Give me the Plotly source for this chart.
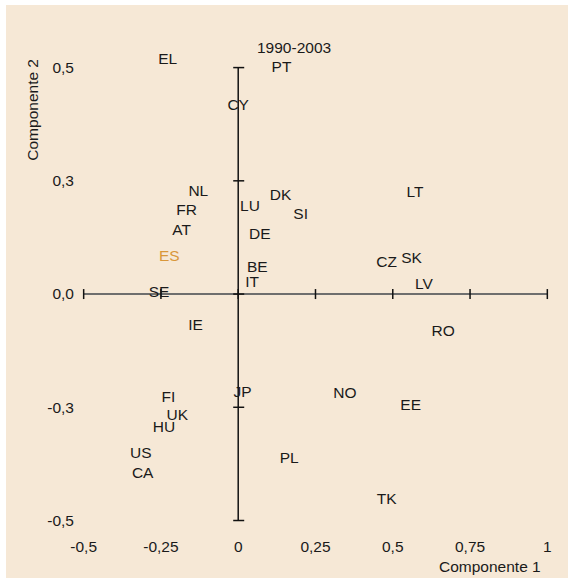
import plotly.graph_objects as go

countries = ["EL", "PT", "CY", "NL", "FR", "AT", "ES", "LU", "DK", "SI", "DE", "BE", "IT", "SE",
             "LT", "CZ", "SK", "LV", "IE", "JP", "FI", "UK", "HU", "US", "CA", "PL", "RO", "NO", "EE", "TK"]
comp1 = [-0.228, 0.140, 0.000, -0.129, -0.167, -0.183, -0.223, 0.038, 0.137, 0.202, 0.070, 0.062, 0.045, -0.256,
         0.572, 0.480, 0.561, 0.601, -0.138, 0.014, -0.226, -0.197, -0.240, -0.315, -0.309, 0.165, 0.663, 0.345, 0.558, 0.480]
comp2 = [0.517, 0.498, 0.415, 0.224, 0.183, 0.139, 0.082, 0.193, 0.217, 0.174, 0.129, 0.057, 0.024, 0.002,
         0.222, 0.068, 0.077, 0.020, -0.070, -0.219, -0.230, -0.269, -0.297, -0.354, -0.398, -0.364, -0.085, -0.221, -0.247, -0.455]
highlight = "ES"

x_ticks = [-0.5, -0.25, 0, 0.25, 0.5, 0.75, 1]
x_ticktext = ["-0,5", "-0,25", "0", "0,25", "0,5", "0,75", "1"]
y_ticks = [-0.5, -0.25, 0, 0.25, 0.5]
y_ticktext = ["-0,5", "-0,3", "0,0", "0,3", "0,5"]

title_text = "1990-2003"
x_title = "Componente 1"
y_title = "Componente 2"

FONT = "Liberation Sans, Arial, sans-serif"
FS = 15.5
BG = "#F6E8D6"

colors = ["#D9973A" if c == highlight else "#1a1a1a" for c in countries]

fig = go.Figure()
fig.add_trace(go.Scatter(
    x=comp1, y=comp2, mode="text", text=countries,
    textposition="middle center",
    textfont=dict(family=FONT, size=FS, color=colors),
    hoverinfo="skip", showlegend=False, cliponaxis=False,
))

shapes = []
# background panel
shapes.append(dict(type="rect", xref="paper", yref="paper",
                   x0=(6 - 75) / 485, x1=(568 - 75) / 485,
                   y0=(535 - 578) / 505, y1=(535 - 5) / 505,
                   fillcolor=BG, line=dict(width=0), layer="below"))
# horizontal axis line at y=0
shapes.append(dict(type="line", xref="x", yref="y", x0=x_ticks[0], x1=x_ticks[-1], y0=0, y1=0,
                   line=dict(color="#6e6e6e", width=2), layer="below"))
# vertical axis line at x=0
shapes.append(dict(type="line", xref="x", yref="y", x0=0, x1=0, y0=y_ticks[0], y1=y_ticks[-1],
                   line=dict(color="#111111", width=1.5), layer="below"))
for xv in x_ticks:
    shapes.append(dict(type="line", xref="x", yref="y", ysizemode="pixel", yanchor=0,
                       x0=xv, x1=xv, y0=-5, y1=5, line=dict(color="#111111", width=1.5), layer="below"))
for yv in y_ticks:
    shapes.append(dict(type="line", xref="x", yref="y", xsizemode="pixel", xanchor=0,
                       y0=yv, y1=yv, x0=-5, x1=6, line=dict(color="#111111", width=1.5), layer="below"))

fig.update_layout(
    width=568, height=579,
    margin=dict(l=75, r=8, t=30, b=44),
    paper_bgcolor="white", plot_bgcolor="rgba(0,0,0,0)",
    font=dict(family=FONT, size=FS, color="#1a1a1a"),
    shapes=shapes,
    xaxis=dict(range=[-0.528, 1.041], showgrid=False, zeroline=False, showline=False,
               tickvals=x_ticks, ticktext=x_ticktext, ticks="", fixedrange=True),
    yaxis=dict(range=[-0.532, 0.583], showgrid=False, zeroline=False, showline=False,
               tickvals=y_ticks, ticktext=y_ticktext, ticks="", fixedrange=True),
    annotations=[
        dict(text=title_text, xref="paper", yref="paper",
             x=(294 - 75) / 485, y=(535 - 47) / 505, xanchor="center", yanchor="middle",
             showarrow=False, font=dict(family=FONT, size=FS, color="#1a1a1a")),
        dict(text=x_title, xref="paper", yref="paper",
             x=(543 - 75) / 485, y=(535 - 566.7) / 505, xanchor="right", yanchor="middle",
             showarrow=False, font=dict(family=FONT, size=FS, color="#1a1a1a")),
        dict(text=y_title, xref="paper", yref="paper", textangle=-90,
             x=(31.7 - 75) / 485, y=(535 - 110) / 505, xanchor="center", yanchor="middle",
             showarrow=False, font=dict(family=FONT, size=FS, color="#1a1a1a")),
    ],
)

fig.write_html("out.html", config={"displayModeBar": False},
               post_script="document.body.style.margin='0';document.body.style.overflow='hidden';")
